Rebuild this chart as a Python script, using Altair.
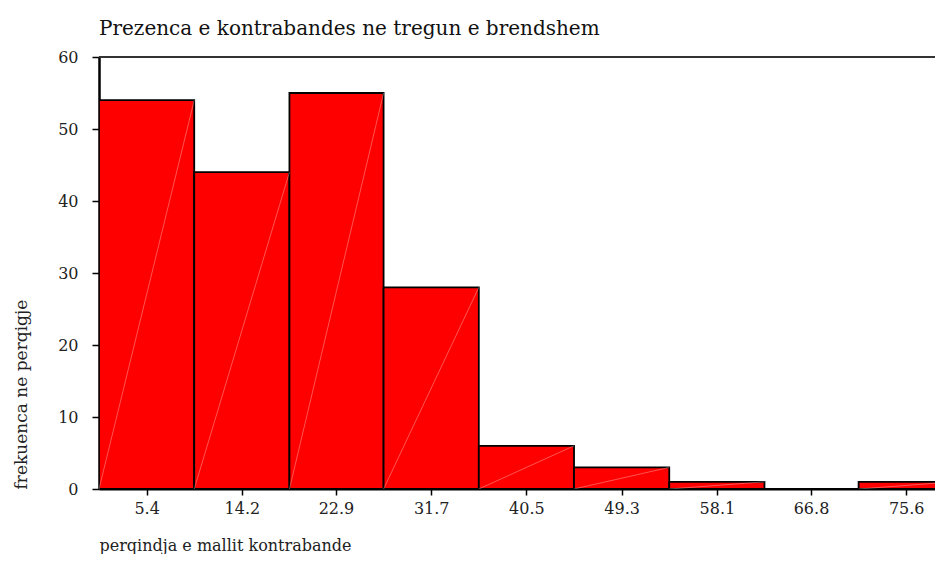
import altair as alt
import pandas as pd

# Histogram data
bin_edges = [1.0, 9.8, 18.6, 27.3, 36.1, 44.9, 53.7, 62.5, 71.2, 80.0]
bin_centers = [5.4, 14.2, 22.9, 31.7, 40.5, 49.3, 58.1, 66.8, 75.6]
counts = [54, 44, 55, 28, 6, 3, 1, 0, 1]

title_text = "Prezenca e kontrabandes ne tregun e brendshem"
x_title = "perqindja e mallit kontrabande"
y_title = "frekuenca ne perqigje"

df = pd.DataFrame({
    "lo": bin_edges[:-1],
    "hi": bin_edges[1:],
    "count": counts,
    "base": [0] * len(counts),
})

FONT = "DejaVu Serif"
W, H = 836, 432

x_scale = alt.Scale(domain=[1.0, 78.26], nice=False, zero=False)
y_scale = alt.Scale(domain=[0, 60], nice=False)

x_axis = alt.Axis(
    values=bin_centers, format=".1f", title=x_title,
    grid=False, domainColor="#000000", domainWidth=2,
    tickColor="#000000", tickSize=6, tickWidth=1.5,
    labelFont=FONT, labelFontSize=16, labelColor="#222222", labelPadding=5,
    titleFont=FONT, titleFontSize=16, titleFontWeight="normal", titleColor="#222222",
    titleAnchor="start", titleAlign="left", titleX=0, titleY=56, titleBaseline="middle",
)
y_axis = alt.Axis(
    values=[0, 10, 20, 30, 40, 50, 60], title=y_title,
    grid=False, domainColor="#000000", domainWidth=2.5,
    tickColor="#000000", tickSize=7, tickWidth=1.5,
    labelFont=FONT, labelFontSize=16, labelColor="#222222", labelPadding=14,
    titleFont=FONT, titleFontSize=17, titleFontWeight="normal", titleColor="#222222",
    titleAngle=-90, titleAlign="left", titleBaseline="middle",
    titleX=-78, titleY=H,
)

base = alt.Chart(df)

bars = base.mark_rect(
    color="#ff0000", stroke="#000000", strokeWidth=1.8, clip=True
).encode(
    x=alt.X("lo:Q", scale=x_scale, axis=x_axis),
    x2="hi:Q",
    y=alt.Y("count:Q", scale=y_scale, axis=y_axis),
    y2="base:Q",
)

diagonals = base.transform_filter("datum.count > 0").mark_rule(
    color="#ffffff", strokeWidth=0.6, opacity=0.55, clip=True
).encode(
    x=alt.X("lo:Q", scale=x_scale),
    x2="hi:Q",
    y=alt.Y("base:Q", scale=y_scale),
    y2="count:Q",
)

top_line = alt.Chart(pd.DataFrame({"v": [60]})).mark_rule(
    color="#333333", strokeWidth=2
).encode(y=alt.Y("v:Q", scale=y_scale))

chart = alt.layer(bars, diagonals, top_line).properties(
    width=W, height=H,
    title=alt.TitleParams(
        title_text, anchor="start", frame="group", font=FONT, fontSize=20,
        fontWeight="normal", color="#111111", offset=10,
    ),
    autosize=alt.AutoSizeParams(type="none"),
    padding={"left": 91, "top": 49, "right": 0, "bottom": 65},
).configure_view(stroke=None)

chart.save("out.html", embed_options={"renderer": "svg", "actions": False})
